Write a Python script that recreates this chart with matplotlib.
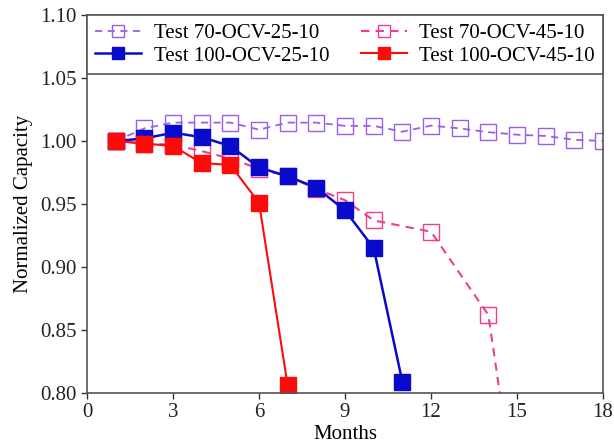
import matplotlib
matplotlib.use("Agg")
import matplotlib.pyplot as plt

plt.rcParams["font.family"] = ["Liberation Serif", "DejaVu Serif"]

months_70_25 = [1, 2, 3, 4, 5, 6, 7, 8, 9, 10, 11, 12, 13, 14, 15, 16, 17, 18]
cap_70_25 = [1.000, 1.010, 1.0146, 1.0146, 1.0146, 1.009, 1.0146, 1.0146, 1.012, 1.012,
             1.0074, 1.0122, 1.010, 1.007, 1.005, 1.004, 1.001, 1.000]

months_70_45 = [1, 2, 3, 4, 5, 6, 7, 8, 9, 10, 12, 14, 15]
cap_70_45 = [1.000, 0.998, 0.997, 0.992, 0.986, 0.978, 0.972, 0.962, 0.953, 0.937,
             0.928, 0.862, 0.707]

months_100_25 = [1, 2, 3, 4, 5, 6, 7, 8, 9, 10, 11]
cap_100_25 = [1.000, 1.002, 1.0066, 1.003, 0.996, 0.979, 0.972, 0.963, 0.945, 0.915, 0.809]

months_100_45 = [1, 2, 3, 4, 5, 6, 7]
cap_100_45 = [1.000, 0.998, 0.996, 0.9825, 0.981, 0.951, 0.806]

purple = "#9b5fe6"
pink = "#ee3f8c"
blue = "#0a0acc"
red = "#ff0a0a"

fig = plt.figure(figsize=(6.14, 4.44), dpi=100)
ax = fig.add_axes([87 / 614, 1 - 393 / 444, (603 - 87) / 614, (393 - 15) / 444])

l1, = ax.plot(months_70_25, cap_70_25, linestyle="--", color=purple, linewidth=1.3,
              marker="s", markersize=11, markerfacecolor="none", markeredgecolor=purple,
              markeredgewidth=1.0, dashes=(4, 3), label="Test 70-OCV-25-10")
l2, = ax.plot(months_70_45, cap_70_45, linestyle="--", color=pink, linewidth=1.5,
              marker="s", markersize=11, markerfacecolor="none", markeredgecolor=pink,
              markeredgewidth=1.0, dashes=(4, 3), label="Test 70-OCV-45-10")
l3, = ax.plot(months_100_25, cap_100_25, linestyle="-", color=blue, linewidth=1.8,
              marker="s", markersize=11, markerfacecolor=blue, markeredgecolor=blue,
              label="Test 100-OCV-25-10")
l4, = ax.plot(months_100_45, cap_100_45, linestyle="-", color=red, linewidth=1.5,
              marker="s", markersize=11, markerfacecolor=red, markeredgecolor=red,
              label="Test 100-OCV-45-10")

ax.set_xlim(0, 18)
ax.set_ylim(0.80, 1.10)
ax.set_xticks([0, 3, 6, 9, 12, 15, 18])
ax.set_yticks([0.80, 0.85, 0.90, 0.95, 1.00, 1.05, 1.10])
ax.set_yticklabels(["0.80", "0.85", "0.90", "0.95", "1.00", "1.05", "1.10"])
ax.tick_params(direction="out", length=4, width=1, labelsize=15, colors="#333333",
               labelcolor="#222222")
for spine in ax.spines.values():
    spine.set_color("#555555")
    spine.set_linewidth(1.2)

ax.set_xlabel("Months", fontsize=15, labelpad=2)
ax.set_ylabel("Normalized Capacity", fontsize=15, labelpad=5)

# legend filled row by row like the original
leg = ax.legend([l1, l3, l2, l4], [l.get_label() for l in (l1, l3, l2, l4)],
                loc="upper left", ncol=2, mode="expand", bbox_to_anchor=(0, 0, 1, 1),
                borderaxespad=0, fontsize=15, handlelength=2.2, handletextpad=0.6,
                labelspacing=0.15, columnspacing=1.2, fancybox=False, framealpha=1,
                borderpad=0.4, markerscale=0.85)
leg.get_frame().set_edgecolor("#555555")
leg.get_frame().set_linewidth(1.2)

fig.savefig("out.png", dpi=100)
